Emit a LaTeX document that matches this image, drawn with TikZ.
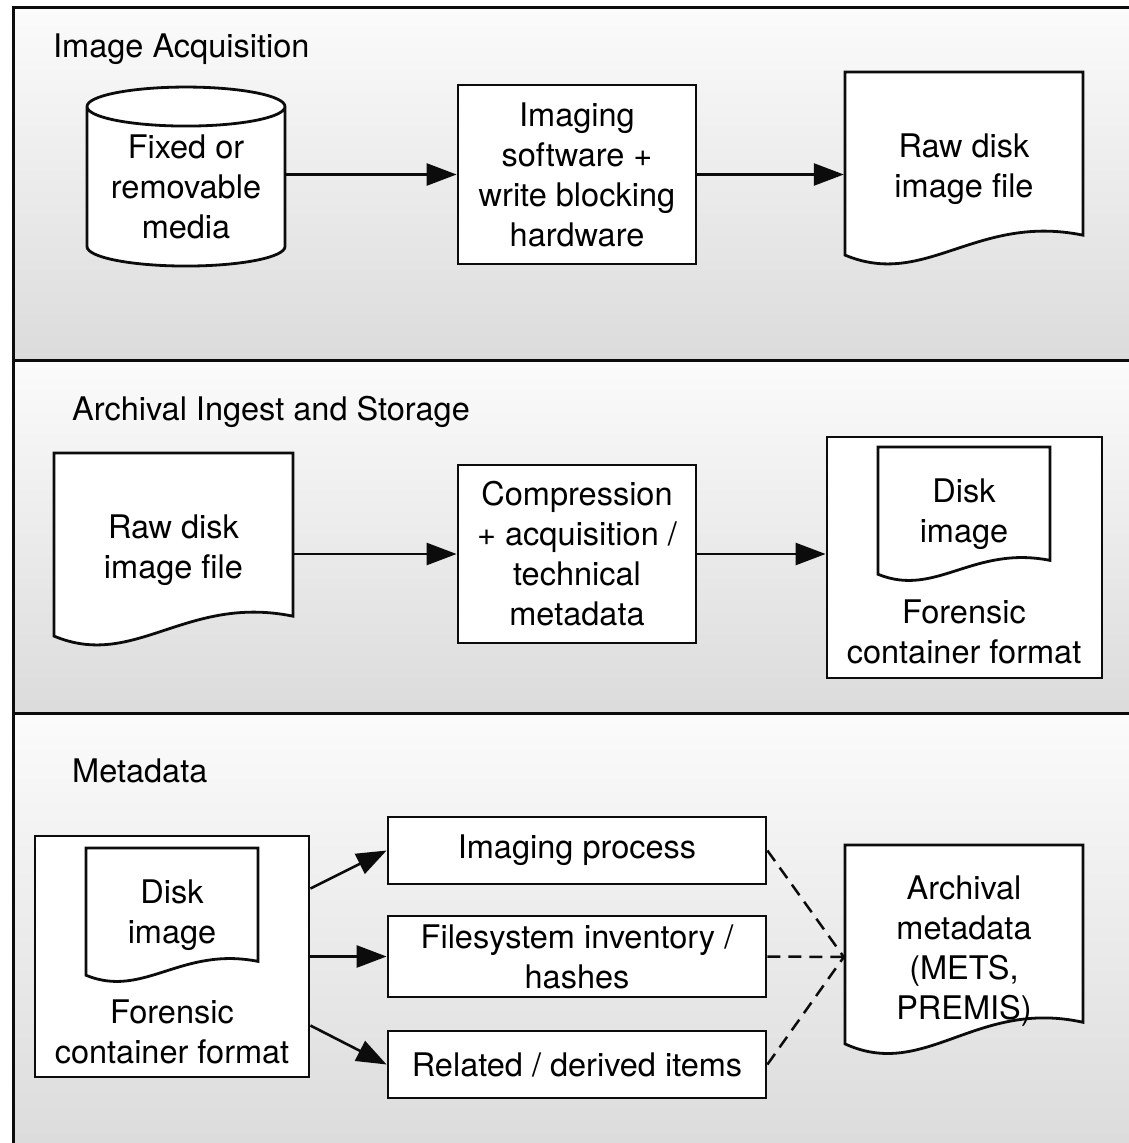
\documentclass[tikz,border=0pt]{standalone}
\usepackage{fontspec}
\setmainfont{TeX Gyre Heros}
\usetikzlibrary{arrows.meta,positioning,calc,shapes.geometric}
\definecolor{panelink}{RGB}{12,12,12}
\def\boxlw{2.8pt}
\tikzset{
  every node/.style = {font=\fontsize{32.5}{40}\selectfont},
  boxnode/.style    = {rectangle, draw=panelink, fill=white, line width=\boxlw,
                       inner sep=0pt, align=center},
  media/.style      = {cylinder, shape border rotate=90, aspect=0.26,
                       draw=panelink, fill=white, line width=\boxlw,
                       inner sep=0pt, align=center},
  docline/.style    = {draw=panelink, fill=white, line width=\boxlw},
  docnode/.style    = {rectangle, inner sep=0pt, outer sep=-0.8pt, align=center,
    path picture={
      \draw[docline] let \p1=(path picture bounding box.north west),
                         \p2=(path picture bounding box.south east) in
        (\x1+2pt,\y1-2pt) -- (\x2-2pt,\y1-2pt)
        -- (\x2-2pt,{\y1+0.83*(\y2-\y1)})
        .. controls ({\x1+0.55*(\x2-\x1)},{\y1+0.72*(\y2-\y1)})
                and ({\x1+0.34*(\x2-\x1)},{\y1+1.10*(\y2-\y1)})
        .. (\x1+2pt,{\y1+0.93*(\y2-\y1)}) -- cycle;
    }},
  paneltitle/.style = {anchor=base west, inner sep=0pt},
  conn/.style       = {-{Triangle[length=30pt,width=22pt]},
                       line width=2.6pt, draw=panelink},
  dashconn/.style   = {line width=2.5pt, draw=panelink,
                       dash pattern=on 13pt off 8pt}
}

\begin{document}
\begin{tikzpicture}[x=1pt,y=-1pt]
\useasboundingbox (0,0) rectangle (1128,1143);

% --- panels (shaded bands) ---
\foreach \top/\bot in {7/360, 360/713, 713/1150}{
  \shade[top color=gray!3, bottom color=gray!28] (13,\top) rectangle (1145,\bot);
  \draw[line width=3pt, draw=panelink] (13,\top) rectangle (1145,\bot);
}

% panel titles
\node[paneltitle] (tacq) at (53,57)  {Image Acquisition};
\node[paneltitle] (ting) at (72,420) {Archival Ingest and Storage};
\node[paneltitle] (tmet) at (72,782) {Metadata};

% --- image acquisition ---
\node[media, minimum width=198, minimum height=179] (media) at (186,187)
  {Fixed or\\removable\\media};
\node[boxnode, minimum width=238, minimum height=179] (imgsw) at (577,174.5)
  {Imaging\\software +\\write blocking\\hardware};
\node[docnode, minimum width=242, minimum height=199] (raw1) at (964,169.5)
  {Raw disk\\image file};

\draw[conn] (media.east |- imgsw.west) -- (imgsw.west);
\draw[conn] (imgsw.east) -- (imgsw.east -| raw1.west);

% --- archival ingest and storage ---
\node[docnode, minimum width=243, minimum height=199] (raw2) at (173.5,550.5)
  {Raw disk\\image file};
\node[boxnode, minimum width=238, minimum height=178] (compr) at (577,554)
  {Compression\\+ acquisition /\\technical\\metadata};
\node[boxnode, minimum width=275, minimum height=241] (fc1) at (964.5,557.5) {};
\node[docnode, minimum width=176, minimum height=139] (disk1) at (964,514.5)
  {Disk\\image};
\node[align=center, inner sep=0pt] (fclab1) at (964,632)
  {Forensic\\container format};

\draw[conn] (raw2.east |- compr.west) -- (compr.west);
\draw[conn] (compr.east) -- (compr.east -| fc1.west);

% --- metadata ---
\node[boxnode, minimum width=274, minimum height=241] (fc2) at (172,956.5) {};
\node[docnode, minimum width=176, minimum height=139] (disk2) at (172,915.5)
  {Disk\\image};
\node[align=center, inner sep=0pt] (fclab2) at (172,1032)
  {Forensic\\container format};

\foreach \y/\h/\name/\txt in {850.5/67/mproc/{Imaging process},
    956.5/81/mfs/{Filesystem inventory /\\hashes},
    1064.5/67/mrel/{Related / derived items}}{
  \node[boxnode, minimum width=378, minimum height=\h] (\name) at (577,\y) {\txt};
}
\node[docnode, minimum width=242, minimum height=216] (arch) at (964,951)
  {Archival\\metadata\\(METS,\\PREMIS)};

\draw[conn] ([yshift=68pt]fc2.east) -- (mproc.west);
\draw[conn] (fc2.east) -- (mfs.west);
\draw[conn] ([yshift=-69pt]fc2.east) -- (mrel.west);

\foreach \name in {mproc, mfs, mrel}{
  \draw[dashconn] (\name.east) -- ([yshift=-6pt]arch.west);
}

\end{tikzpicture}
\end{document}
